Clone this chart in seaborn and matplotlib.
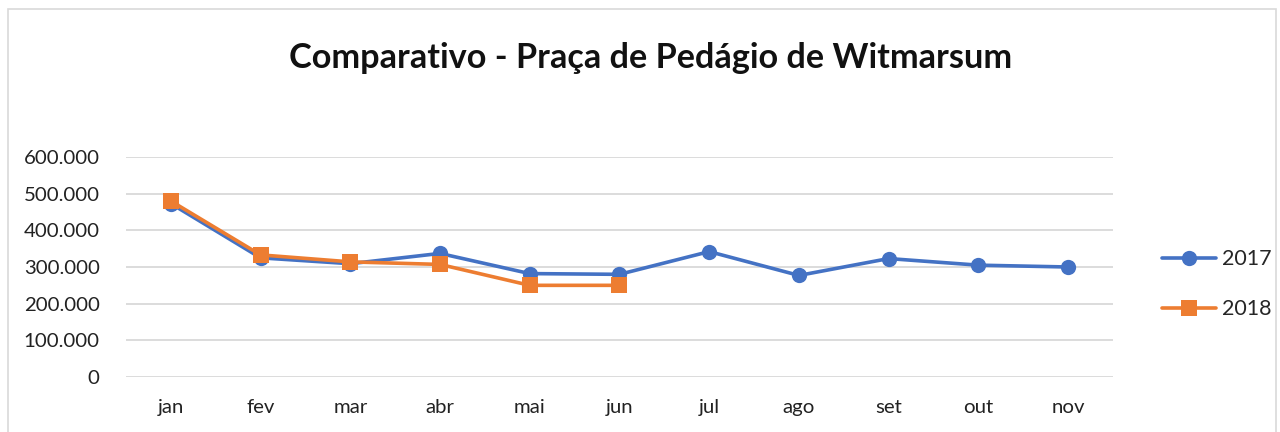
import pandas as pd
import seaborn as sns
import matplotlib.pyplot as plt
from matplotlib.ticker import FuncFormatter
from matplotlib.patches import Rectangle

meses = ["jan", "fev", "mar", "abr", "mai", "jun", "jul", "ago", "set", "out", "nov"]
v2017 = [473000, 325000, 309000, 337000, 282000, 280000, 342000, 277000, 323000, 305000, 300000]
v2018 = [480000, 333000, 314000, 307000, 250000, 250000]

df = pd.concat([
    pd.DataFrame({"mes": meses, "valor": v2017, "ano": "2017"}),
    pd.DataFrame({"mes": meses[:len(v2018)], "valor": v2018, "ano": "2018"}),
])

sns.set_style("white")
plt.rcParams['font.family'] = ['Lato', 'DejaVu Sans']

fig = plt.figure(figsize=(12.8, 4.32), dpi=100)
ax = fig.add_axes([0.0984, 0.1273, 0.7711, 0.5093])

sns.lineplot(data=df, x="mes", y="valor", hue="ano", style="ano",
             palette={"2017": "#4472C4", "2018": "#ED7D31"},
             markers={"2017": "o", "2018": "s"}, dashes=False,
             linewidth=2.6, markersize=11, markeredgewidth=0, ax=ax)

ax.set_ylim(0, 600000)
ax.set_xlim(-0.5, len(meses) - 0.5)
ax.set_yticks(range(0, 600001, 100000))
ax.yaxis.set_major_formatter(FuncFormatter(lambda v, p: f"{int(v):,}".replace(",", ".")))
ax.grid(axis="y", color="#D9D9D9", linewidth=1.3)
ax.set_axisbelow(True)
for s in ax.spines.values():
    s.set_visible(False)
ax.tick_params(axis="y", length=0, pad=19, labelsize=14.7, labelcolor="#222222")
ax.tick_params(axis="x", length=0, pad=16, labelsize=14.7, labelcolor="#222222")
ax.set_xlabel("")
ax.set_ylabel("")

fig.text(0.508, 0.866, "Comparativo - Praça de Pedágio de Witmarsum", ha="center", va="center",
         fontsize=24.7, fontweight="bold", color="#111111")

ax.legend(loc="center left", bbox_to_anchor=(0.893, 0.342), bbox_transform=fig.transFigure,
          frameon=False, fontsize=15.5, handlelength=2.5, handletextpad=0.25, labelspacing=1.4)

fig.patches.append(Rectangle((0.006, -0.05), 0.991, 1.03, transform=fig.transFigure,
                             fill=False, edgecolor="#D9D9D9", linewidth=1.2))

plt.savefig("out.png", dpi=100)
